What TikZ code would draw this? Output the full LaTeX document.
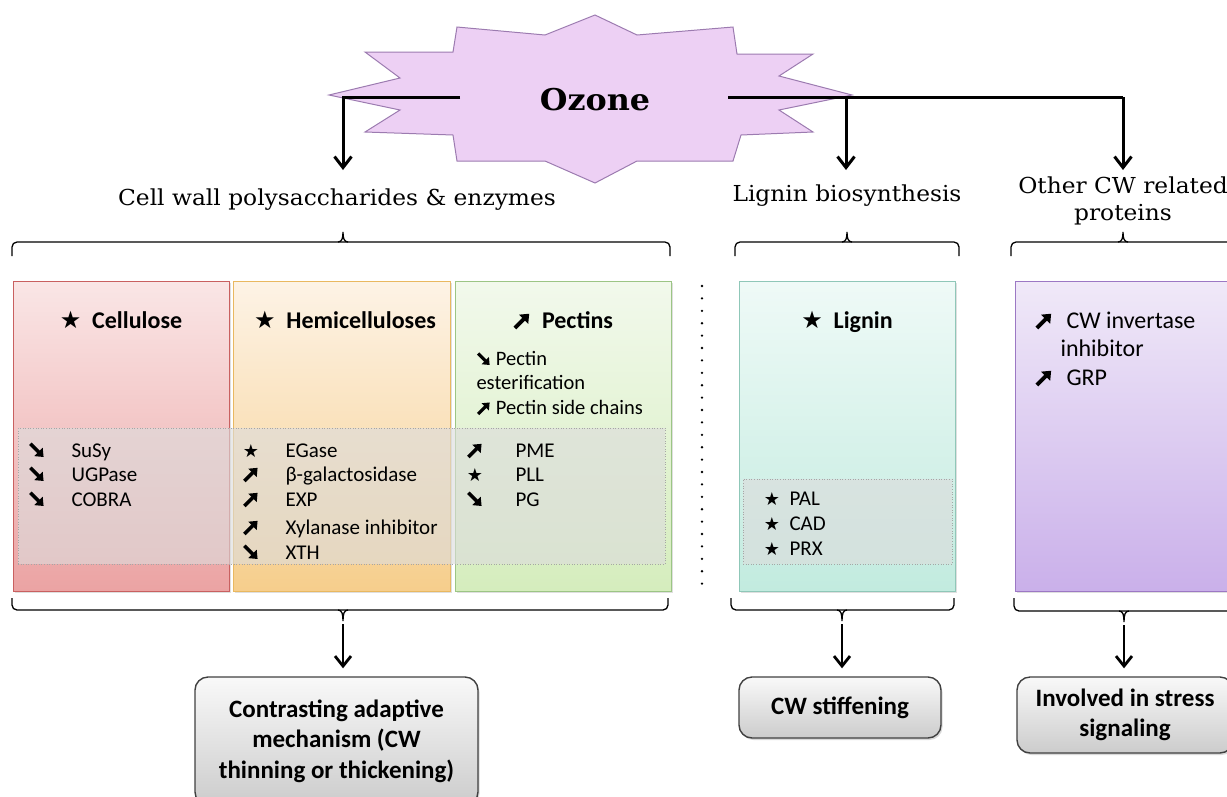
\documentclass[tikz,border=0pt]{standalone}
\usepackage{fontspec}
\setmainfont{Carlito}
\newfontfamily\tw[FakeStretch=1.06]{DejaVu Serif}
\newfontfamily\sym{DejaVu Sans}
\usetikzlibrary{arrows.meta,shadows}
\definecolor{starfill}{HTML}{EDD0F4}
\definecolor{stardraw}{HTML}{9C7BB0}
\definecolor{celT}{HTML}{FAE6E6}\definecolor{celB}{HTML}{EBA3A3}\definecolor{celD}{HTML}{C96060}
\definecolor{hemT}{HTML}{FDF3E6}\definecolor{hemB}{HTML}{F6CE8C}\definecolor{hemD}{HTML}{E9B860}
\definecolor{pecT}{HTML}{F2F9EC}\definecolor{pecB}{HTML}{D5EDBD}\definecolor{pecD}{HTML}{9CC585}
\definecolor{ligT}{HTML}{EFFAF7}\definecolor{ligB}{HTML}{C2EBDF}\definecolor{ligD}{HTML}{8FC7B8}
\definecolor{othT}{HTML}{F0E9F8}\definecolor{othB}{HTML}{CAB0EA}\definecolor{othD}{HTML}{9C78C4}
\definecolor{ovl}{HTML}{DCDCDC}
\newcommand{\st}{{\sym ★}}
\newcommand{\ua}[1][1.2]{\scalebox{#1}{\tikz[x=1pt,y=1pt,baseline=0pt]{\draw[line width=3pt,-{Triangle[length=6pt,width=9.5pt]}] (0,0) -- (11,11);}}}
\newcommand{\da}[1][1.2]{\scalebox{#1}{\tikz[x=1pt,y=1pt,baseline=0pt]{\draw[line width=3pt,-{Triangle[length=6pt,width=9.5pt]}] (0,11) -- (11,0);}}}
\tikzset{
  catbox/.style={minimum width=216pt, minimum height=310pt, line width=1pt, inner sep=0pt,
    drop shadow={opacity=0.25, shadow xshift=1.5pt, shadow yshift=-1.5pt}},
  overlay/.style={fill=ovl, fill opacity=0.62, draw=gray!70, dotted, line width=0.6pt, inner sep=0pt},
  resbox/.style={rounded corners=13pt, draw=black!75, line width=1.4pt, top color=white!95!gray, bottom color=black!20,
    align=center, font=\bfseries\fontsize{25}{30.5}\selectfont, inner sep=0pt,
    drop shadow={opacity=0.3, shadow xshift=1.5pt, shadow yshift=-2pt}},
  brace/.style={line width=1.3pt, rounded corners=5pt},
  toparrow/.style={line width=3pt, -{Straight Barb[length=11pt,width=17pt,line width=3pt]}},
  botarrow/.style={line width=1.4pt, -{Straight Barb[length=10pt,width=16pt,line width=2.8pt]}},
  head/.style={font=\tw\fontsize{22}{27}\selectfont, text=black, align=center},
  ttl/.style={anchor=base, font=\bfseries\fontsize{24}{28}\selectfont},
  itm/.style={anchor=base west, font=\fontsize{21}{25}\selectfont},
  sy/.style={anchor=base, font=\fontsize{18}{20}\selectfont},
}
\begin{document}
\begin{tikzpicture}[x=1pt,y=-1pt]
\useasboundingbox (0,0) rectangle (1227,796);
% starburst
\draw[fill=starfill, draw=stardraw, line width=1pt]
 (457,27) -- (545,35) -- (595,15) -- (637,35) -- (733,27) -- (737,54) -- (813,54) -- (779,76)
 -- (852,95) -- (779,110) -- (813,132) -- (741,135) -- (733,161) -- (637,161) -- (595,183)
 -- (545,161) -- (457,161) -- (453,135) -- (365,132) -- (400,110) -- (329,95) -- (400,78)
 -- (365,52) -- (453,52) -- cycle;
\node[font=\tw\bfseries\fontsize{30}{30}\selectfont] (oz) at (595,100) {Ozone};
\coordinate (ozL) at (460,97);
\coordinate (ozR) at (728,97);
\coordinate (jL) at (343,97);
\coordinate (jM) at (846,97);
\coordinate (jR) at (1123,97);
\coordinate (aL) at (343,170);
\coordinate (aM) at (846,170);
\coordinate (aR) at (1123,170);
\draw[toparrow] (ozL) -- (jL) -- (aL);
\draw[line width=3pt] (ozR) -- (jR);
\draw[toparrow] (jM) -- (aM);
\draw[toparrow] (jR) -- (aR);
% headings
\node[head] (hCW) at (337,200) {Cell wall polysaccharides \& enzymes};
\node[head] (hLig) at (847,196) {Lignin biosynthesis};
\node[head] (hOth) at (1123,201) {Other CW related\\proteins};
% top braces
\draw[brace] (12,256) -- (12,242) -- (670,242) -- (670,256);
\draw[line width=1.3pt] (338,242) .. controls (342,242) and (343,238) .. (343,232) .. controls (343,238) and (344,242) .. (348,242);
\draw[brace] (735,256) -- (735,242) -- (959,242) -- (959,256);
\draw[line width=1.3pt] (842,242) .. controls (846,242) and (847,238) .. (847,232) .. controls (847,238) and (848,242) .. (852,242);
\draw[brace] (1011,256) -- (1011,242) -- (1240,242);
\draw[line width=1.3pt] (1118,242) .. controls (1122,242) and (1123,238) .. (1123,232) .. controls (1123,238) and (1124,242) .. (1128,242);
% category boxes
\node[catbox, draw=celD, top color=celT, bottom color=celB] (cel) at (121,436) {};
\node[catbox, draw=hemD, top color=hemT, bottom color=hemB, minimum width=217pt] (hem) at (341.5,436) {};
\node[catbox, draw=pecD, top color=pecT, bottom color=pecB] (pec) at (563,436) {};
\node[catbox, draw=ligD, top color=ligT, bottom color=ligB] (lig) at (847,436) {};
\node[catbox, draw=othD, top color=othT, bottom color=othB] (oth) at (1123,436) {};
% overlays
\node[overlay, minimum width=647pt, minimum height=136pt] (ov1) at (341.5,496) {};
\node[overlay, minimum width=209pt, minimum height=85pt] (ov2) at (847.5,521.5) {};
% dotted separator
\draw[line width=2.6pt, line cap=round, dash pattern=on 0pt off 12.4pt] (702,286) -- (702,584);
% titles
\node[ttl] (tCel) at (121,328) {\st\ \ Cellulose};
\node[ttl] (tHem) at (345,328) {\st\ \ Hemicelluloses};
\node[ttl] (tPec) at (563,328) {\ua[1.3]\ \ Pectins};
\node[ttl] (tLig) at (847,328) {\st\ \ Lignin};
% cellulose list
\node[sy] (c1s) at (37,457) {\da}; \node[itm] (c1) at (68,457) {SuSy};
\node[sy] (c2s) at (37,481) {\da}; \node[itm] (c2) at (68,481) {UGPase};
\node[sy] (c3s) at (37,506) {\da}; \node[itm] (c3) at (68,506) {COBRA};
% hemicellulose list
\node[sy] (h1s) at (251,457) {\st}; \node[itm] (h1) at (282,457) {EGase};
\node[sy] (h2s) at (251,481) {\ua}; \node[itm] (h2) at (282,481) {β-galactosidase};
\node[sy] (h3s) at (251,506) {\ua}; \node[itm] (h3) at (282,506) {EXP};
\node[sy] (h4s) at (251,534) {\ua}; \node[itm] (h4) at (282,534) {Xylanase inhibitor};
\node[sy] (h5s) at (251,559) {\da}; \node[itm] (h5) at (282,559) {XTH};
% pectin text
\node[itm, font=\fontsize{20.5}{25}\selectfont] (p0a) at (473,365) {\da[1.05] Pectin};
\node[itm, font=\fontsize{20.5}{25}\selectfont] (p0b) at (473,389) {esterification};
\node[itm, font=\fontsize{20.5}{25}\selectfont] (p0c) at (473,414) {\ua[1.05] Pectin side chains};
\node[sy] (p1s) at (475,457) {\ua}; \node[itm] (p1) at (512,457) {PME};
\node[sy] (p2s) at (475,481) {\st}; \node[itm] (p2) at (512,481) {PLL};
\node[sy] (p3s) at (475,506) {\da}; \node[itm] (p3) at (512,506) {PG};
% lignin list
\node[sy] (l1s) at (772,505) {\st}; \node[itm] (l1) at (786,505) {PAL};
\node[sy] (l2s) at (772,530) {\st}; \node[itm] (l2) at (786,530) {CAD};
\node[sy] (l3s) at (772,555) {\st}; \node[itm] (l3) at (786,555) {PRX};
% other
\node[anchor=base] (o1s) at (1044,328) {\ua[1.3]};
\node[itm, font=\fontsize{24}{28}\selectfont] (o1) at (1063,328) {CW invertase};
\node[itm, font=\fontsize{24}{28}\selectfont] (o1b) at (1057,356) {inhibitor};
\node[anchor=base] (o2s) at (1044,385) {\ua[1.3]};
\node[itm, font=\fontsize{24}{28}\selectfont] (o2) at (1063,385) {GRP};
% bottom braces
\draw[brace] (12,598) -- (12,610) -- (668,610) -- (668,598);
\draw[line width=1.3pt] (338,610) .. controls (342,610) and (343,614) .. (343,621) .. controls (343,614) and (344,610) .. (348,610);
\draw[brace] (731,598) -- (731,610) -- (954,610) -- (954,598);
\draw[line width=1.3pt] (837,610) .. controls (841,610) and (842,614) .. (842,621) .. controls (842,614) and (843,610) .. (847,610);
\draw[brace] (1014,598) -- (1014,611) -- (1240,611);
\draw[line width=1.3pt] (1119,611) .. controls (1123,611) and (1124,615) .. (1124,622) .. controls (1124,615) and (1125,611) .. (1129,611);
% result boxes
\node[resbox, minimum width=283pt, minimum height=128pt] (rCW) at (336.5,741) {Contrasting adaptive\\mechanism (CW\\thinning or thickening)};
\node[resbox, minimum width=202pt, minimum height=61pt] (rLig) at (840,707.5) {CW stiffening};
\node[resbox, minimum width=216pt, minimum height=76pt] (rOth) at (1125,715) {Involved in stress\\signaling};
\coordinate (bL) at (343,624);
\coordinate (bM) at (842,624);
\coordinate (bR) at (1124,625);
\draw[botarrow, shorten >=8pt] (bL) -- (bL |- rCW.north);
\draw[botarrow, shorten >=8pt] (bM) -- (bM |- rLig.north);
\draw[botarrow, shorten >=8pt] (bR) -- (bR |- rOth.north);
\end{tikzpicture}
\end{document}
